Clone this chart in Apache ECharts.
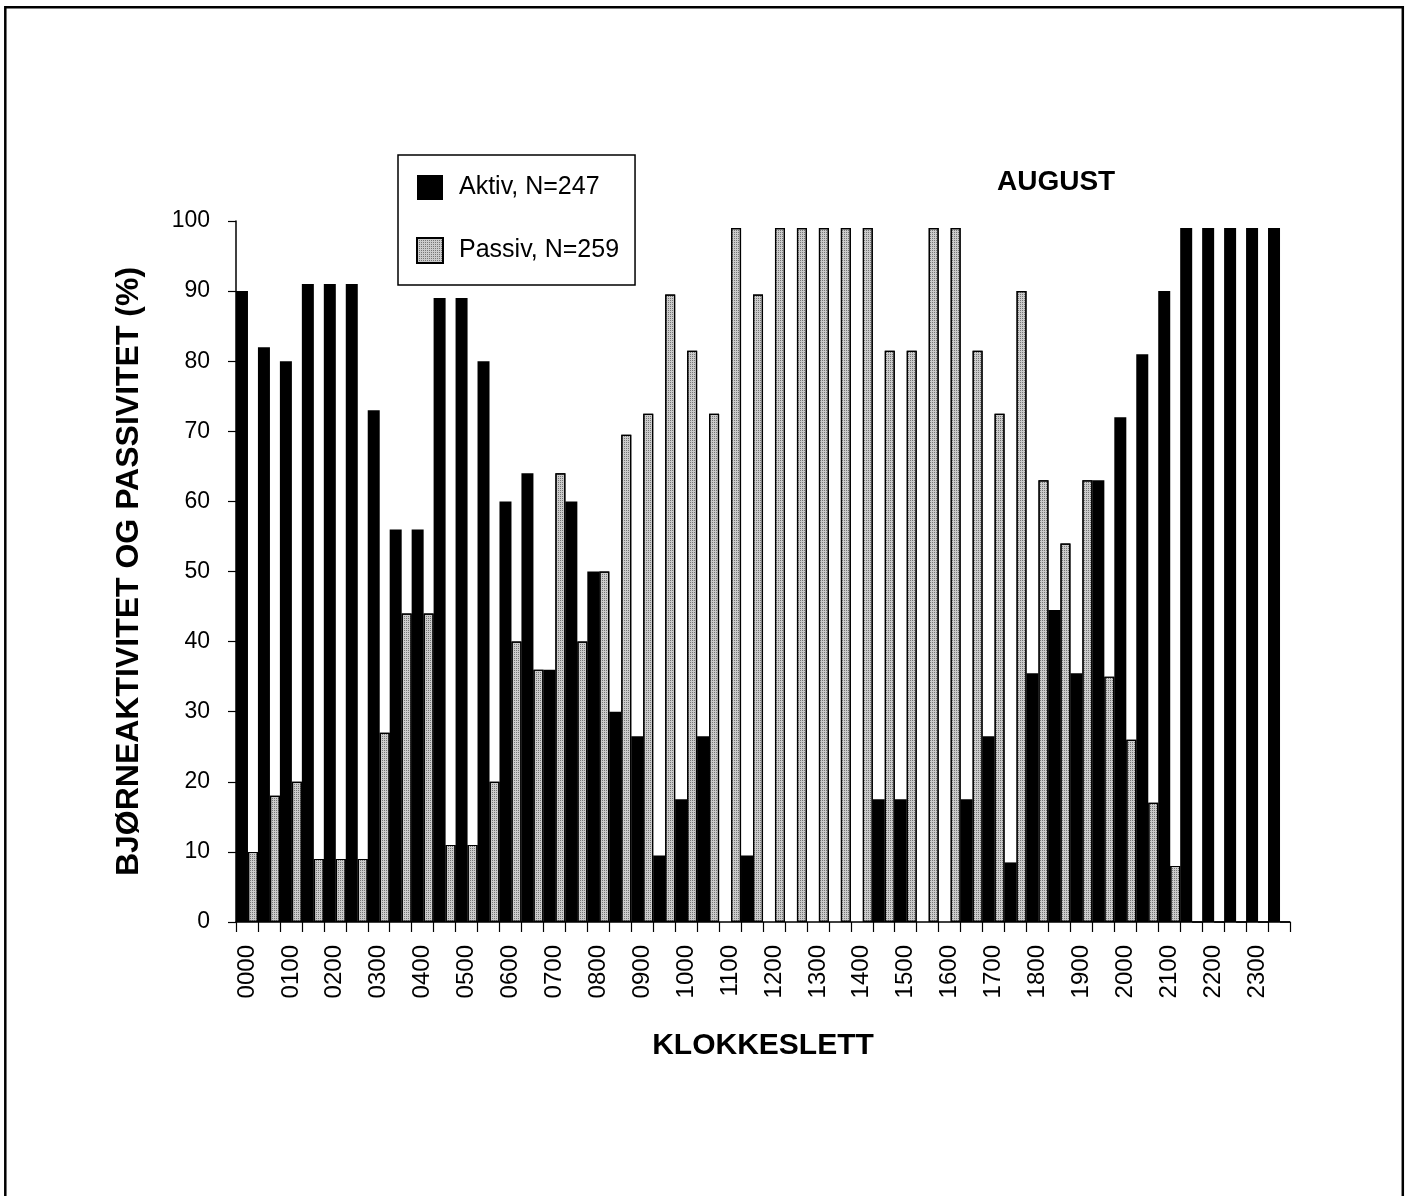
<!DOCTYPE html>
<html>
<head>
<meta charset="utf-8">
<script src="https://cdn.jsdelivr.net/npm/echarts@6/dist/echarts.min.js"></script>
<style>
  html, body { margin: 0; padding: 0; background: #fff; }
  #chart { width: 1408px; height: 1196px; }
</style>
</head>
<body>
<div id="chart"></div>
<script>
const categories = ['0000','0030','0100','0130','0200','0230','0300','0330','0400','0430','0500','0530',
  '0600','0630','0700','0730','0800','0830','0900','0930','1000','1030','1100','1130',
  '1200','1230','1300','1330','1400','1430','1500','1530','1600','1630','1700','1730',
  '1800','1830','1900','1930','2000','2030','2100','2130','2200','2230','2300','2330'];

const aktiv = [90, 82, 80, 91, 91, 91, 73, 56, 56, 89, 89, 80,
  60, 64, 36, 60, 50, 30, 26.5, 9.5, 17.5, 26.5, 0, 9.5,
  0, 0, 0, 0, 0, 17.5, 17.5, 0, 0, 17.5, 26.5, 8.5,
  35.5, 44.5, 35.5, 63, 72, 81, 90, 99, 99, 99, 99, 99];

const passiv = [10, 18, 20, 9, 9, 9, 27, 44, 44, 11, 11, 20,
  40, 36, 64, 40, 50, 69.5, 72.5, 89.5, 81.5, 72.5, 99, 89.5,
  99, 99, 99, 99, 99, 81.5, 81.5, 99, 99, 81.5, 72.5, 90,
  63, 54, 63, 35, 26, 17, 8, 0, 0, 0, 0, 0];

const seriesNames = ['Aktiv, N=247', 'Passiv, N=259'];
const chartTitle = 'AUGUST';
const xTitle = 'KLOKKESLETT';
const yTitle = 'BJØRNEAKTIVITET OG PASSIVITET (%)';

const FONT = '"Liberation Sans", Arial, sans-serif';

const chart = echarts.init(document.getElementById('chart'), null, { renderer: 'canvas' });

chart.setOption({
  backgroundColor: '#ffffff',
  animation: false,
  title: {
    text: chartTitle,
    left: 997,
    top: 168,
    padding: 0,
    textStyle: { fontFamily: FONT, fontWeight: 'bold', fontSize: 28, color: '#000' }
  },
  legend: {
    orient: 'vertical',
    left: 398,
    top: 155,
    padding: [20, 16, 21, 18],
    itemWidth: 26,
    itemHeight: 25,
    itemGap: 37,
    borderColor: '#000',
    borderWidth: 1.5,
    backgroundColor: '#fff',
    icon: 'rect',
    textStyle: { fontFamily: FONT, fontSize: 25, color: '#000', padding: [0, 0, 0, 11] },
    data: seriesNames
  },
  graphic: [
    {
      type: 'rect',
      silent: true,
      shape: { x: 5.3, y: 7.2, width: 1397.5, height: 1200 },
      style: { fill: 'none', stroke: '#000', lineWidth: 2.5 }
    }
  ],
  grid: { left: 236, right: 118, top: 221, bottom: 274, containLabel: false },
  xAxis: {
    type: 'category',
    data: categories,
    boundaryGap: true,
    name: xTitle,
    nameLocation: 'middle',
    nameGap: 109,
    nameTextStyle: { fontFamily: FONT, fontWeight: 'bold', fontSize: 30, color: '#000' },
    axisLine: { show: true, lineStyle: { color: '#000', width: 1.5 } },
    axisTick: { show: true, interval: 0, length: 10, lineStyle: { color: '#000', width: 1.2 } },
    axisLabel: {
      interval: 1,
      rotate: 90,
      margin: 23,
      fontFamily: FONT,
      fontSize: 24,
      color: '#000'
    },
    splitLine: { show: false }
  },
  yAxis: {
    type: 'value',
    min: 0,
    max: 100,
    interval: 10,
    name: yTitle,
    nameLocation: 'middle',
    nameGap: 91,
    nameTextStyle: { fontFamily: FONT, fontWeight: 'bold', fontSize: 32, color: '#000' },
    axisLine: { show: true, lineStyle: { color: '#000', width: 1.5 } },
    axisTick: { show: true, length: 8, lineStyle: { color: '#000', width: 1.2 } },
    axisLabel: { margin: 26, fontFamily: FONT, fontSize: 23, color: '#000' },
    splitLine: { show: false }
  },
  series: [
    {
      name: seriesNames[0],
      type: 'bar',
      data: aktiv,
      barWidth: 12,
      barGap: '0%',
      itemStyle: { color: '#000000' }
    },
    {
      name: seriesNames[1],
      type: 'bar',
      data: passiv,
      barWidth: 10,
      barGap: '0%',
      itemStyle: {
        color: '#cbcbcb',
        borderColor: '#000',
        borderWidth: 1.2,
        decal: {
          symbol: 'rect',
          symbolSize: 1,
          color: 'rgba(50,50,50,0.55)',
          dashArrayX: [1, 1],
          dashArrayY: [1, 1],
          rotation: 0
        }
      }
    }
  ]
});
</script>
</body>
</html>
